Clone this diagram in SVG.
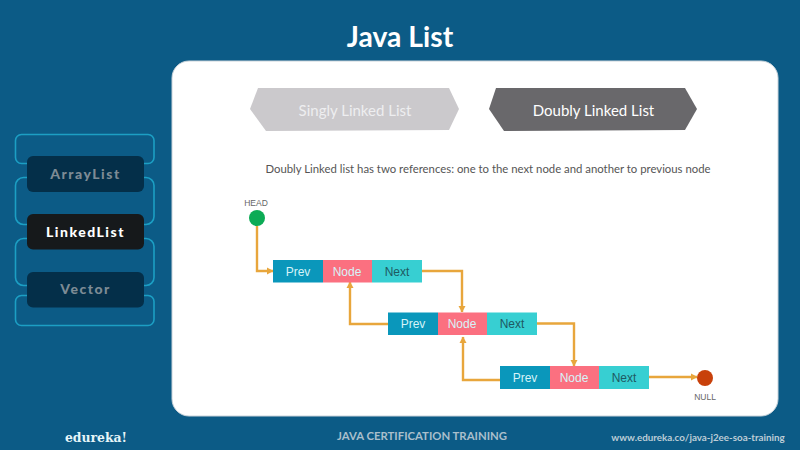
<svg xmlns="http://www.w3.org/2000/svg" width="800" height="450" viewBox="0 0 800 450">
<style>
.bg{fill:#0c5b86}
.out{fill:none;stroke:#1c9fc4;stroke-width:1.6}
.tab{font:900 14px Lato,"Open Sans",sans-serif;letter-spacing:1.5px;text-anchor:middle}
.os{font-family:Lato,"Open Sans",sans-serif;text-anchor:middle}
.cell{font:12px "Liberation Sans",Arial,sans-serif;text-anchor:middle}
.small{font:8.500px "Liberation Sans",Arial,sans-serif;text-anchor:middle;fill:#666}
.p{fill:#0a97bb}.n{fill:#fb7080}.x{fill:#37cfd2}
.lw{fill:#d6f3f8}.ld{fill:#1f5a62}
.c{fill:none;stroke:#e8a63c;stroke-width:2.4}
</style>
<defs>
<marker id="a" markerUnits="userSpaceOnUse" markerWidth="9" markerHeight="9" refX="6" refY="4" orient="auto"><path d="M0 0.500L6.500 4L0 7.500Z" fill="#e8a63c"/></marker>
</defs>
<rect class="bg" width="800" height="450"/>
<text id="title" class="os" x="400" y="46.500" font-size="28.300" font-weight="700" fill="#fff">Java List</text>
<g id="panel"><rect x="172" y="61" width="606" height="355" rx="17" fill="#fff" stroke="#c9d3da" stroke-width="1"/></g>
<g id="tabs-outline">
<rect class="out" x="15.500" y="134.500" width="138.500" height="29" rx="6"/>
<rect class="out" x="15.500" y="177.500" width="138.500" height="47" rx="8"/>
<rect class="out" x="15.500" y="238.500" width="138.500" height="47" rx="8"/>
<rect class="out" x="15.500" y="295.500" width="138.500" height="30" rx="6"/>
</g>
<g id="tab-arraylist"><rect x="27" y="156" width="117" height="36" rx="6" fill="#042f49"/><text class="tab" x="85.500" y="178.500" fill="#7d8b95">ArrayList</text></g>
<g id="tab-linkedlist"><rect x="27" y="214" width="117" height="35.500" rx="6" fill="#16191b"/><text class="tab" x="85.500" y="236.500" fill="#fff">LinkedList</text></g>
<g id="tab-vector"><rect x="27" y="272" width="117" height="35.500" rx="6" fill="#042f49"/><text class="tab" x="85.500" y="294" fill="#7d8b95">Vector</text></g>
<g id="singly"><polygon points="250,109 258,88 449,88 459,109 449,130 266,131" fill="#cbc9cc"/><text class="os" x="355" y="116" font-size="15" fill="#eeeef0">Singly Linked List</text></g>
<g id="doubly"><polygon points="489,109 496,88 685,88 697,109 685,130 504,131" fill="#69686b"/><text class="os" x="593.500" y="116" font-size="15" fill="#fff">Doubly Linked List</text></g>
<text id="desc" class="os" x="488" y="173" font-size="11.350" fill="#555">Doubly Linked list has two references: one to the next node and another to previous node</text>
<g id="connectors">
<path class="c" marker-end="url(#a)" d="M257 226V271H273"/>
<path class="c" marker-end="url(#a)" d="M422 271H462V312"/>
<path class="c" marker-end="url(#a)" d="M388 324H350V282"/>
<path class="c" marker-end="url(#a)" d="M537 323.500H574V366"/>
<path class="c" marker-end="url(#a)" d="M500 380H463V337"/>
<path class="c" marker-end="url(#a)" d="M649 377H697"/>
</g>
<g id="head"><text class="small" x="256" y="206">HEAD</text><circle cx="257" cy="218" r="8" fill="#0cab55"/></g>
<g id="null"><circle cx="705" cy="378" r="8" fill="#c8410b"/><text class="small" x="705" y="400">NULL</text></g>
<g id="node1">
<rect class="p" x="273" y="260" width="50" height="22.500"/><rect class="n" x="323" y="260" width="49" height="22.500"/><rect class="x" x="372" y="260" width="50" height="22.500"/>
<text class="cell lw" x="298" y="275.500">Prev</text><text class="cell lw" x="347" y="275.500">Node</text><text class="cell ld" x="397" y="275.500">Next</text>
</g>
<g id="node2">
<rect class="p" x="388" y="312.500" width="50" height="22.500"/><rect class="n" x="438" y="312.500" width="49" height="22.500"/><rect class="x" x="487" y="312.500" width="50" height="22.500"/>
<text class="cell lw" x="413" y="328">Prev</text><text class="cell lw" x="462" y="328">Node</text><text class="cell ld" x="512" y="328">Next</text>
</g>
<g id="node3">
<rect class="p" x="500" y="366" width="50" height="23"/><rect class="n" x="550" y="366" width="49" height="23"/><rect class="x" x="599" y="366" width="50" height="23"/>
<text class="cell lw" x="525" y="382">Prev</text><text class="cell lw" x="574" y="382">Node</text><text class="cell ld" x="624" y="382">Next</text>
</g>
<text id="brand" x="96" y="442" font-family="'DejaVu Serif',serif" font-size="12.400" font-weight="700" fill="#e6f5f8" text-anchor="middle">edureka!</text>
<text id="course" class="os" x="422" y="440" font-size="11.350" font-weight="700" fill="#a9bfcc">JAVA CERTIFICATION TRAINING</text>
<text id="url" class="os" x="698" y="441" font-size="9.800" font-weight="700" fill="#bccdd7">www.edureka.co/java-j2ee-soa-training</text>
</svg>
